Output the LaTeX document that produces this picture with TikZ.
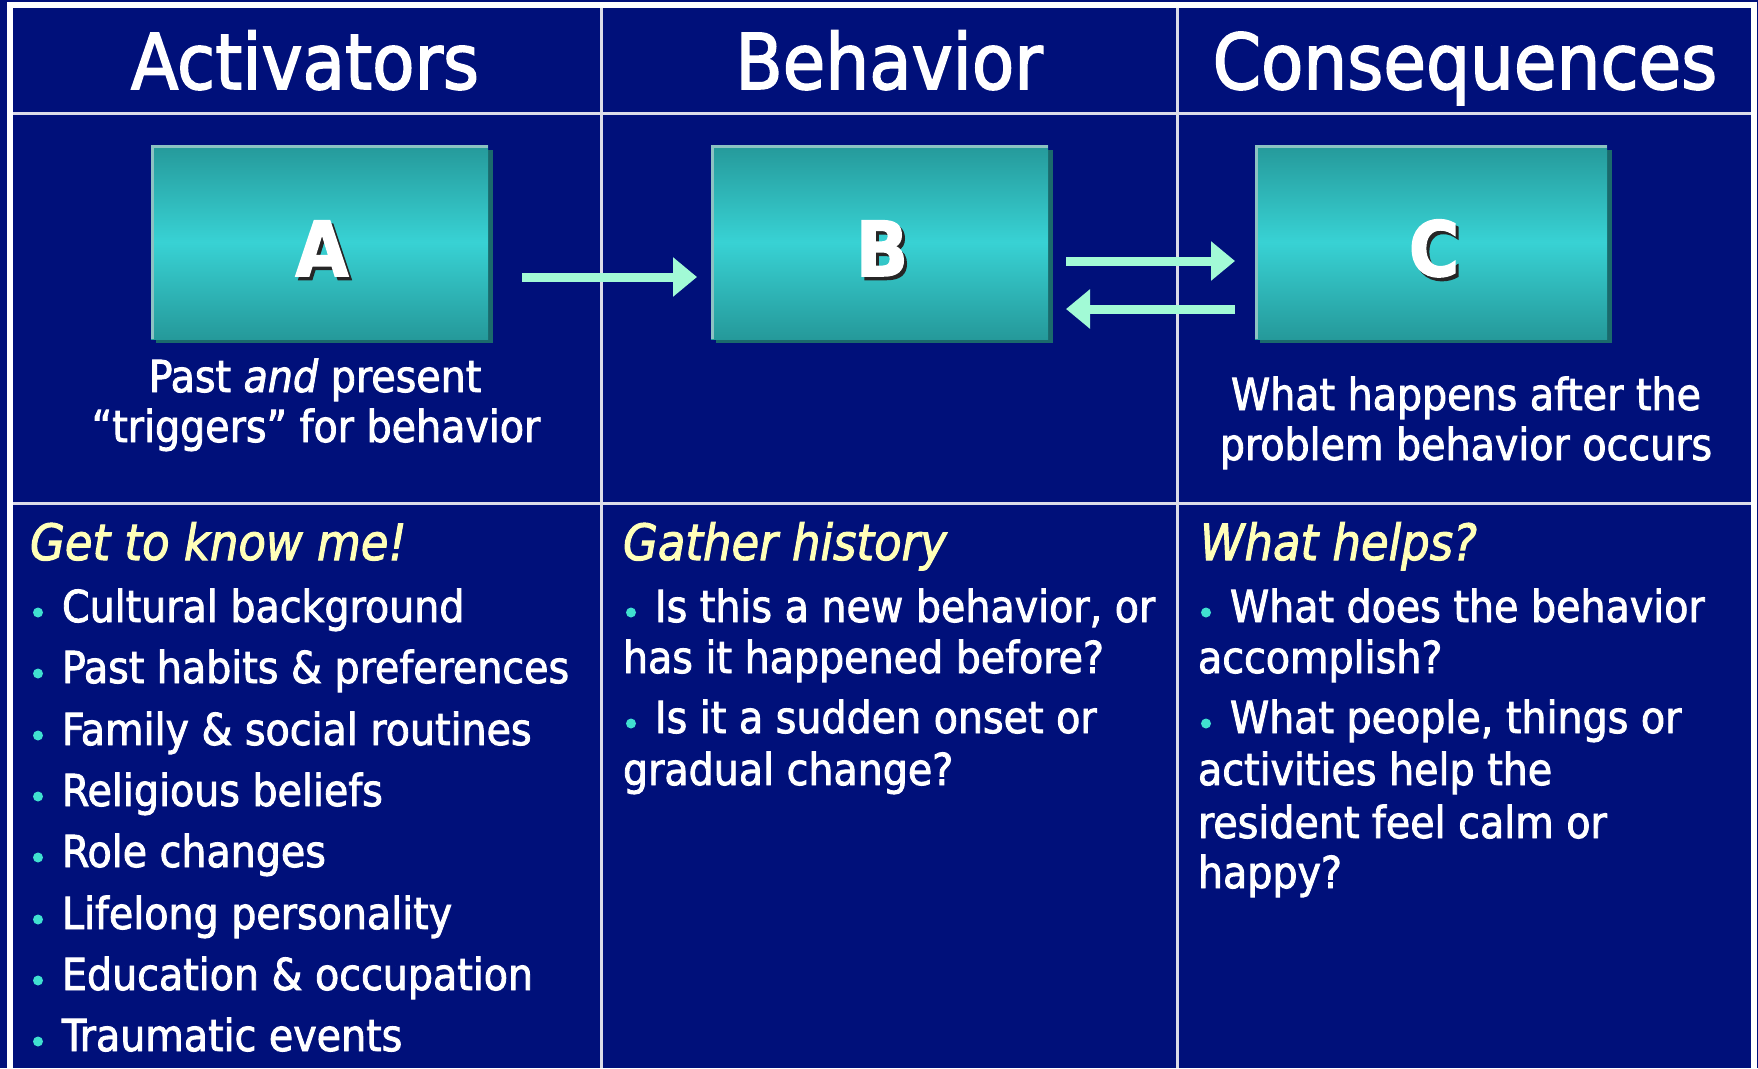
\documentclass[tikz,border=0pt]{standalone}
\usepackage{fontspec}
\setmainfont{DejaVu Sans Condensed}[FakeBold=2,ItalicFeatures={FakeBold=2}]
\usetikzlibrary{arrows.meta}
\definecolor{navy}{HTML}{00107A}
\definecolor{gridc}{HTML}{DCDCE8}
\definecolor{tealtop}{HTML}{25999A}
\definecolor{tealmid}{HTML}{38D2D4}
\definecolor{tealshadow}{HTML}{1A6A6C}
\definecolor{teallight}{HTML}{8CC2C2}
\definecolor{mint}{HTML}{A2FAD6}
\definecolor{bulletc}{HTML}{40E0D0}
\definecolor{headyellow}{HTML}{FFFFB8}
\begin{document}
\begin{tikzpicture}[x=1pt,y=-1pt,
  hdr/.style={inner sep=0pt, outer sep=0pt, text=white, anchor=base, font=\fontsize{77}{90}\selectfont},
  txt/.style={inner sep=0pt, outer sep=0pt, text=white, anchor=base west, font=\fontsize{44}{53}\selectfont},
  ctxt/.style={txt, anchor=base},
  ital/.style={inner sep=0pt, outer sep=0pt, text=headyellow, anchor=base west, font=\fontsize{50}{60}\selectfont\itshape},
  abox/.style={rectangle, inner sep=0pt, outer sep=0pt, minimum height=194pt, top color=tealtop, bottom color=tealtop, middle color=tealmid},
  letter/.style={inner sep=0pt, outer sep=0pt, text=white, anchor=base, font=\fontsize{76}{90}\selectfont\bfseries},
  lshadow/.style={letter, text=black!85},
  arr/.style={mint, line width=9pt, -{Triangle[length=24pt,width=38pt]}},
  bul/.style={bulletc}
]
\fill[navy] (0,0) rectangle (1758,1068);
\useasboundingbox (0,0) rectangle (1758,1068);

% frame and grid
\draw[gridc, line width=3pt] (10,113.5) -- (1754,113.5);
\draw[gridc, line width=3pt] (10,503) -- (1754,503);
\draw[gridc, line width=3pt] (601.5,5) -- (601.5,1068);
\draw[gridc, line width=3pt] (1177.5,5) -- (1177.5,1068);
\draw[white, line width=6pt] (10,1068) -- (10,5) -- (1754,5) -- (1754,1068);

% headers
\node[hdr] (hA) at (305,89) {Activators};
\node[hdr] (hB) at (889,89) {Behavior};
\node[hdr] (hC) at (1465,89) {Consequences};

% boxes: shadows
\fill[tealshadow] (156,150) rectangle (493,343);
\fill[tealshadow] (716,150) rectangle (1053,343);
\fill[tealshadow] (1260,150) rectangle (1612,343);
\node[abox, minimum width=337pt] (A) at (319.5,242) {};
\node[abox, minimum width=337pt] (B) at (879.5,242) {};
\node[abox, minimum width=352pt] (C) at (1431,242) {};
\foreach \n in {A,B,C}{
  \draw[teallight, line width=3pt] ([xshift=1.5pt]\n.south west) -- ([xshift=1.5pt,yshift=-1.5pt]\n.north west) -- ([yshift=-1.5pt]\n.north east);
}

% letters
\node[lshadow] at (325,279.5) {A};
\node[letter] (lA) at (322,276) {A};
\node[lshadow] at (885,279.5) {B};
\node[letter] (lB) at (882,276) {B};
\node[lshadow] at (1437,279.5) {C};
\node[letter] (lC) at (1434,276) {C};

% arrows
\draw[arr, shorten <=34pt, shorten >=14pt] ([yshift=-35pt]A.east) -- ([yshift=-35pt]B.west);
\draw[arr, shorten <=18pt, shorten >=20pt] ([yshift=-19pt]B.east) -- ([yshift=-19pt]C.west);
\draw[arr, shorten <=20pt, shorten >=18pt] ([yshift=-67pt]C.west) -- ([yshift=-67pt]B.east);

% captions
\node[ctxt] (pa1) at (315,392) {Past \textit{and} present};
\node[ctxt] (pa2) at (316,442) {“triggers” for behavior};
\node[ctxt] (pc1) at (1466,410) {What happens after the};
\node[ctxt] (pc2) at (1466,460) {problem behavior occurs};

% left column
\node[ital] (g1) at (30,560) {Get to know me!};
\foreach \y/\t [count=\i] in {622/Cultural background, 683/Past habits \& preferences, 745/Family \& social routines, 806/Religious beliefs, 867/Role changes, 929/Lifelong personality, 990/Education \& occupation, 1051/Traumatic events}{
  \fill[bul] (38,\y-9.5) circle (5pt);
  \node[txt] (l\i) at (62,\y) {\t};
}

% middle column
\node[ital] (g2) at (623,560) {Gather history};
\fill[bul] (631,612.5) circle (5pt);
\node[txt] (m1) at (655,622) {Is this a new behavior, or};
\node[txt] (m2) at (623,673) {has it happened before?};
\fill[bul] (631,723.5) circle (5pt);
\node[txt] (m3) at (655,733) {Is it a sudden onset or};
\node[txt] (m4) at (623,785) {gradual change?};

% right column
\node[ital] (g3) at (1200,560) {What helps?};
\fill[bul] (1206,612.5) circle (5pt);
\node[txt] (r1) at (1230,622) {What does the behavior};
\node[txt] (r2) at (1198,673) {accomplish?};
\fill[bul] (1206,723.5) circle (5pt);
\node[txt] (r3) at (1230,733) {What people, things or};
\node[txt] (r4) at (1198,785) {activities help the};
\node[txt] (r5) at (1198,838) {resident feel calm or};
\node[txt] (r6) at (1198,888) {happy?};
\end{tikzpicture}
\end{document}
